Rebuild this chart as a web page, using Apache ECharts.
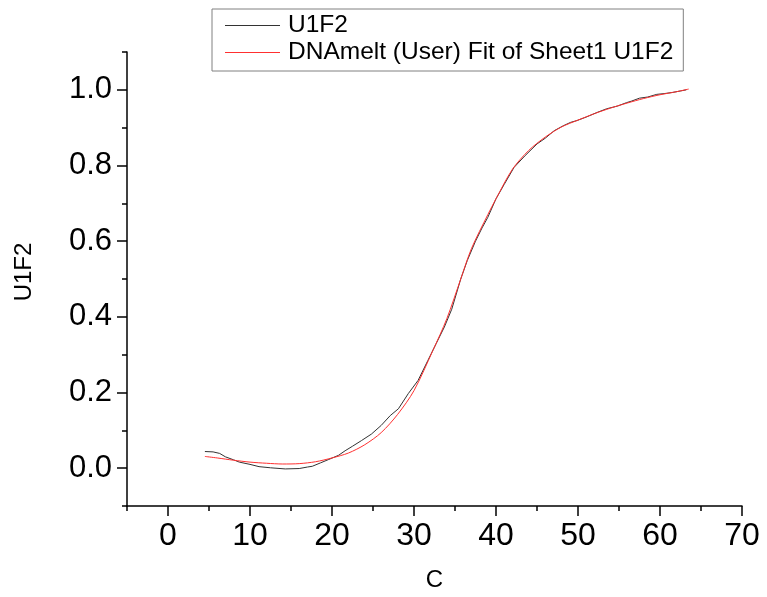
<!DOCTYPE html>
<html>
<head>
<meta charset="utf-8">
<script src="https://cdn.jsdelivr.net/npm/echarts@6/dist/echarts.min.js"></script>
<style>
html,body{margin:0;padding:0;background:#fff;}
#chart{width:767px;height:597px;}
</style>
</head>
<body>
<div id="chart"></div>
<script>
// Measured data (U1F2)
var dataX = [4.5,5.5,6.3,7.0,8.0,8.7,10.0,11.1,12.5,14.3,16.0,17.0,17.6,18.6,19.6,20.8,21.6,22.5,23.6,24.8,26.0,27.1,28.1,29.3,30.5,31.7,32.7,33.7,34.6,35.7,36.5,37.5,38.3,39.0,40.0,41.0,42.2,43.5,45.0,46.0,47.1,48.2,49.1,49.9,51.0,52.3,53.5,54.8,55.9,56.5,57.5,58.5,59.6,60.5,61.5,62.5,63.2];
var dataY = [0.044,0.043,0.039,0.030,0.022,0.016,0.010,0.004,0.001,-0.002,-0.001,0.003,0.005,0.014,0.023,0.034,0.046,0.058,0.073,0.090,0.113,0.139,0.157,0.197,0.232,0.285,0.329,0.373,0.420,0.500,0.549,0.600,0.635,0.663,0.712,0.750,0.795,0.825,0.857,0.872,0.892,0.905,0.914,0.919,0.928,0.940,0.950,0.957,0.966,0.970,0.978,0.981,0.988,0.990,0.993,0.997,1.000];
// Fit curve
var fitX = [4.5,6,8,10,12,14,16,18,20,22,24,26,28,30,32.3,34,35.7,37,39,40,42,44,46,48,50,52,54,56,58,60,62,63.5];
var fitY = [0.031,0.027,0.021,0.016,0.013,0.011,0.012,0.017,0.027,0.040,0.062,0.094,0.142,0.205,0.311,0.395,0.500,0.580,0.670,0.712,0.790,0.840,0.875,0.902,0.920,0.937,0.952,0.965,0.977,0.987,0.995,1.002];
var xMajor = [0,10,20,30,40,50,60,70];
var xMinor = [-5,5,15,25,35,45,55,65];
var yMajor = [0,0.2,0.4,0.6,0.8,1.0];
var yMinor = [-0.1,0.1,0.3,0.5,0.7,0.9,1.1];
var seriesNames = ['U1F2','DNAmelt (User) Fit of Sheet1 U1F2'];
var xTitle = 'C', yTitle = 'U1F2';

function pairs(xs, ys){ return xs.map(function(x,i){ return [x, ys[i]]; }); }
var FONT = '"Liberation Sans", Arial, sans-serif';

var chart = echarts.init(document.getElementById('chart'), null, {renderer:'canvas'});
chart.setOption({
  backgroundColor:'#fff',
  animation:false,
  grid:{left:127, right:25, top:52, bottom:91, containLabel:false},
  legend:{
    orient:'vertical', left:212, top:9,
    borderColor:'#808080', borderWidth:1,
    padding:[4,10,6,13], itemGap:2,
    itemWidth:55, itemHeight:1,
    textStyle:{fontFamily:FONT, fontSize:24.5, color:'#000', padding:[0,0,0,3]},
    data:[{name:seriesNames[0], icon:'rect'},{name:seriesNames[1], icon:'rect'}]
  },
  xAxis:[{
    type:'value', min:-5, max:70, position:'bottom',
    name:xTitle, nameLocation:'middle', nameGap:62,
    nameTextStyle:{fontFamily:FONT, fontSize:24, color:'#000'},
    axisLine:{show:true, onZero:false, lineStyle:{color:'#000', width:1.5}},
    axisTick:{show:true, inside:false, length:10, customValues:xMajor, lineStyle:{color:'#000', width:1.5}},
    axisLabel:{show:true, customValues:xMajor, margin:14, fontFamily:FONT, fontSize:32, color:'#000'},
    splitLine:{show:false}
  },{
    type:'value', min:-5, max:70, position:'bottom',
    axisLine:{show:false, onZero:false},
    axisTick:{show:true, inside:false, length:5, customValues:xMinor, lineStyle:{color:'#000', width:1.5}},
    axisLabel:{show:false},
    splitLine:{show:false}
  }],
  yAxis:[{
    type:'value', min:-0.1, max:1.1, position:'left',
    name:yTitle, nameLocation:'middle', nameGap:91, nameRotate:90,
    nameTextStyle:{fontFamily:FONT, fontSize:24, color:'#000', padding:[0,0,0,14]},
    axisLine:{show:true, onZero:false, lineStyle:{color:'#000', width:1.5}},
    axisTick:{show:true, inside:false, length:10, customValues:yMajor, lineStyle:{color:'#000', width:1.5}},
    axisLabel:{show:true, customValues:yMajor, margin:15, fontFamily:FONT, fontSize:31, color:'#000',
      formatter:function(v){ return v.toFixed(1); }},
    splitLine:{show:false}
  },{
    type:'value', min:-0.1, max:1.1, position:'left',
    axisLine:{show:false, onZero:false},
    axisTick:{show:true, inside:false, length:5, customValues:yMinor, lineStyle:{color:'#000', width:1.5}},
    axisLabel:{show:false},
    splitLine:{show:false}
  }],
  series:[{
    name:seriesNames[0], type:'line', xAxisIndex:0, yAxisIndex:0,
    data:pairs(dataX, dataY), symbol:'none', smooth:false,
    lineStyle:{color:'#333333', width:1}, itemStyle:{color:'#333333'}, z:2
  },{
    name:seriesNames[1], type:'line', xAxisIndex:0, yAxisIndex:0,
    data:pairs(fitX, fitY), symbol:'none', smooth:0.3,
    lineStyle:{color:'#ff3030', width:1}, itemStyle:{color:'#ff3030'}, z:3
  }]
});
</script>
</body>
</html>
